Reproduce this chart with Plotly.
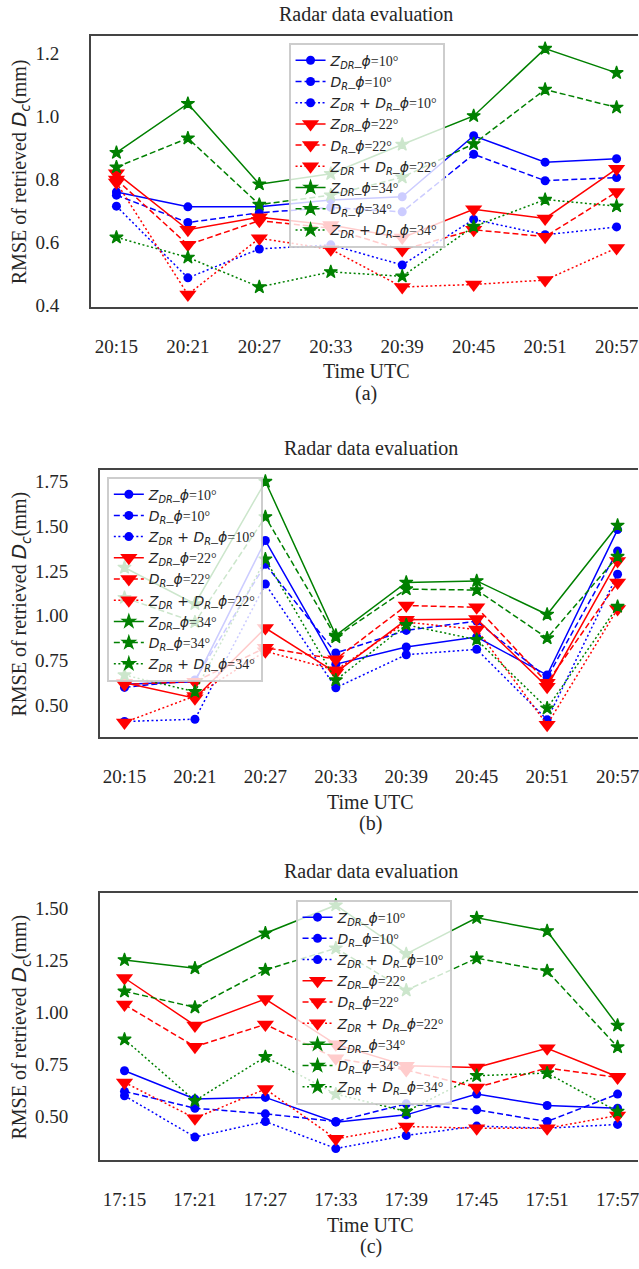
import plotly.graph_objects as go

# ---------------- data ----------------
times_ab = ["20:15", "20:21", "20:27", "20:33", "20:39", "20:45", "20:51", "20:57"]
times_c = ["17:15", "17:21", "17:27", "17:33", "17:39", "17:45", "17:51", "17:57"]

# panel (a)
za10 = [0.760, 0.713, 0.713, 0.735, 0.745, 0.939, 0.855, 0.866]
da10 = [0.750, 0.663, 0.694, 0.711, 0.697, 0.880, 0.796, 0.806]
zda10 = [0.715, 0.487, 0.579, 0.592, 0.528, 0.673, 0.624, 0.649]
za22 = [0.820, 0.640, 0.680, 0.655, 0.615, 0.705, 0.676, 0.834]
da22 = [0.800, 0.592, 0.669, 0.645, 0.576, 0.640, 0.618, 0.760]
zda22 = [0.790, 0.434, 0.613, 0.578, 0.458, 0.466, 0.480, 0.582]
za34 = [0.885, 1.041, 0.785, 0.818, 0.911, 1.002, 1.216, 1.139]
da34 = [0.839, 0.931, 0.720, 0.750, 0.807, 0.913, 1.086, 1.029]
zda34 = [0.616, 0.552, 0.458, 0.506, 0.492, 0.650, 0.736, 0.715]

# panel (b)
zb10 = [0.615, 0.630, 1.420, 0.728, 0.824, 0.880, 0.667, 1.481]
db10 = [0.598, 0.640, 1.287, 0.791, 0.917, 0.969, 0.652, 1.361]
zdb10 = [0.407, 0.420, 1.176, 0.596, 0.781, 0.811, 0.417, 1.231]
zb22 = [0.624, 0.537, 0.930, 0.681, 0.976, 0.981, 0.602, 1.306]
db22 = [0.615, 0.630, 0.820, 0.756, 1.056, 1.046, 0.624, 1.185]
zdb22 = [0.402, 0.550, 0.800, 0.694, 0.963, 0.922, 0.389, 1.037]
zb34 = [1.269, 1.065, 1.750, 0.889, 1.185, 1.194, 1.006, 1.504]
db34 = [1.100, 0.963, 1.552, 0.880, 1.148, 1.143, 0.874, 1.330]
zdb34 = [0.667, 0.574, 1.315, 0.639, 0.948, 0.865, 0.481, 1.050]

# panel (c)
zc10 = [0.720, 0.584, 0.592, 0.473, 0.508, 0.608, 0.553, 0.540]
dc10 = [0.621, 0.540, 0.513, 0.476, 0.561, 0.532, 0.476, 0.608]
zdc10 = [0.600, 0.401, 0.476, 0.346, 0.409, 0.454, 0.444, 0.462]
zc22 = [1.166, 0.938, 1.065, 0.847, 0.744, 0.736, 0.828, 0.691]
dc22 = [1.038, 0.836, 0.943, 0.780, 0.724, 0.640, 0.733, 0.688]
zdc22 = [0.664, 0.492, 0.632, 0.393, 0.452, 0.444, 0.444, 0.505]
zc34 = [1.253, 1.213, 1.381, 1.516, 1.282, 1.455, 1.392, 0.938]
dc34 = [1.102, 1.025, 1.205, 1.309, 1.107, 1.261, 1.200, 0.834]
zdc34 = [0.871, 0.576, 0.787, 0.608, 0.524, 0.696, 0.709, 0.524]

yticks_a = [0.4, 0.6, 0.8, 1.0, 1.2]
yticks_b = [0.50, 0.75, 1.00, 1.25, 1.50, 1.75]
yticks_c = [0.50, 0.75, 1.00, 1.25, 1.50]

title_text = "Radar data evaluation"
xlabel_text = "Time UTC"
captions = ["(a)", "(b)", "(c)"]

# ---------------- styling ----------------
W, H = 639, 1269
SERIF = "Liberation Serif"
SANS = "DejaVu Sans"
TXT = "#262626"
FRAME = "#444444"

def m(s):
    return '<span style="font-family:%s">%s</span>' % (SANS, s)

Z = m("<i>Z</i><sub><i>DR</i></sub>")
D = m("<i>D</i><sub><i>R</i></sub>")
PHI = m("<i>ϕ</i>")

def name(kind, ang):
    if kind == "z":
        base = Z
    elif kind == "d":
        base = D
    else:
        base = Z + m(" + ") + D
    return base + "_" + PHI + "=%d°" % ang

colors = {10: "#0000ff", 22: "#ff0000", 34: "#008000"}
symbols = {10: "circle", 22: "triangle-down", 34: "star"}
msizes = {10: 9, 22: 15, 34: 10}
mlines = {10: 0, 22: 0, 34: 1.2}
dashes = {"z": "solid", "d": "6px,3px", "zd": "2px,2.5px"}

panels = [
    dict(times=times_ab, series=[(za10, "z", 10), (da10, "d", 10), (zda10, "zd", 10),
                                 (za22, "z", 22), (da22, "d", 22), (zda22, "zd", 22),
                                 (za34, "z", 34), (da34, "d", 34), (zda34, "zd", 34)],
         left=91, top=36, bottom=309, xr=[-0.358, 7.30], yr=[0.395, 1.257],
         yt=yticks_a, yfmt=".1f", leg=(289, 43)),
    dict(times=times_ab, series=[(zb10, "z", 10), (db10, "d", 10), (zdb10, "zd", 10),
                                 (zb22, "z", 22), (db22, "d", 22), (zdb22, "zd", 22),
                                 (zb34, "z", 34), (db34, "d", 34), (zdb34, "zd", 34)],
         left=100, top=473.3, bottom=742.5, xr=[-0.35, 7.29], yr=[0.319, 1.815],
         yt=yticks_b, yfmt=".2f", leg=(107, 480)),
    dict(times=times_c, series=[(zc10, "z", 10), (dc10, "d", 10), (zdc10, "zd", 10),
                                (zc22, "z", 22), (dc22, "d", 22), (zdc22, "zd", 22),
                                (zc34, "z", 34), (dc34, "d", 34), (zdc34, "zd", 34)],
         left=100, top=899.3, bottom=1168.5, xr=[-0.35, 7.29], yr=[0.29, 1.575],
         yt=yticks_c, yfmt=".2f", leg=(296, 906)),
]

fig = go.Figure()
layout = dict(
    width=W, height=H,
    margin=dict(l=0, r=0, t=0, b=0),
    paper_bgcolor="white", plot_bgcolor="white",
    font=dict(family=SERIF, color=TXT, size=19),
    showlegend=True,
)
annotations = []

for i, p in enumerate(panels):
    sfx = "" if i == 0 else str(i + 1)
    xa, ya = "x" + sfx, "y" + sfx
    lg = "legend" + sfx
    for vals, kind, ang in p["series"]:
        fig.add_trace(go.Scatter(
            x=p["times"], y=vals, xaxis=xa, yaxis=ya, legend=lg,
            mode="lines+markers", name=name(kind, ang),
            line=dict(color=colors[ang], width=1.5, dash=dashes[kind]),
            marker=dict(symbol=symbols[ang], size=msizes[ang], color=colors[ang],
                        line=dict(width=mlines[ang], color=colors[ang])),
        ))
    y0 = 1 - p["bottom"] / H
    y1 = 1 - p["top"] / H
    layout["xaxis" + sfx] = dict(
        domain=[p["left"] / W, 1], anchor=ya, type="category",
        range=p["xr"], showgrid=False, zeroline=False,
        showline=True, linecolor=FRAME, linewidth=1.8, mirror=True,
        ticks="", ticklabelstandoff=21,
        tickfont=dict(family=SERIF, size=19, color=TXT),
    )
    layout["yaxis" + sfx] = dict(
        domain=[y0, y1], anchor=xa, range=p["yr"],
        tickmode="array", tickvals=p["yt"], tickformat=p["yfmt"],
        showgrid=False, zeroline=False,
        showline=True, linecolor=FRAME, linewidth=1.8, mirror=False,
        ticks="", ticklabelstandoff=26,
        tickfont=dict(family=SERIF, size=19, color=TXT),
    )
    layout[lg] = dict(
        x=p["leg"][0] / W, y=1 - p["leg"][1] / H, xanchor="left", yanchor="top",
        bgcolor="rgba(255,255,255,0.8)", bordercolor="rgba(200,200,200,0.9)",
        borderwidth=2, font=dict(family=SERIF, size=14, color=TXT),
        itemwidth=30, tracegroupgap=0,
    )
    cx = (p["left"] + 643) / 2 / W
    annotations.append(dict(text=title_text, x=cx, y=1 - (p["top"] - 22) / H,
                            xref="paper", yref="paper", showarrow=False,
                            xanchor="center", yanchor="middle",
                            font=dict(family=SERIF, size=20, color=TXT)))
    annotations.append(dict(text=xlabel_text, x=cx, y=1 - (p["bottom"] + 65) / H,
                            xref="paper", yref="paper", showarrow=False,
                            xanchor="center", yanchor="middle",
                            font=dict(family=SERIF, size=20, color=TXT)))
    annotations.append(dict(text=captions[i], x=cx, y=1 - (p["bottom"] + 87) / H,
                            xref="paper", yref="paper", showarrow=False,
                            xanchor="center", yanchor="middle",
                            font=dict(family=SERIF, size=20, color=TXT)))
    annotations.append(dict(text="RMSE of retrieved " + m("<i>D</i><sub><i>c</i></sub>") + "(mm)",
                            x=20 / W, y=(y0 + y1) / 2, xref="paper", yref="paper",
                            showarrow=False, textangle=-90,
                            xanchor="center", yanchor="middle",
                            font=dict(family=SERIF, size=20, color=TXT)))

layout["annotations"] = annotations
fig.update_layout(**layout)
fig.write_html("out.html", config={"displayModeBar": False},
               post_script="document.body.style.margin='0px';document.body.style.overflow='hidden';")
